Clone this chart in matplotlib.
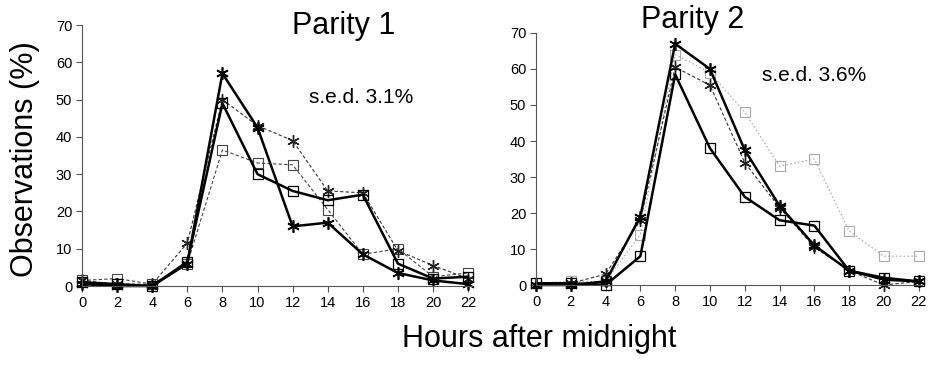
import matplotlib.pyplot as plt
import numpy as np

plt.rcParams['font.family'] = ['Liberation Sans', 'DejaVu Sans']

hours = [0, 2, 4, 6, 8, 10, 12, 14, 16, 18, 20, 22]

# Parity 1
p1_solid_star = [0.5, 0, 0, 6, 57, 42.5, 16, 17, 8.5, 3.5, 1.5, 0.5]
p1_solid_square = [1, 0.5, 0, 6.5, 49, 30, 25.5, 23, 24.5, 6, 2, 2.5]
p1_dash_star = [1.5, 0.5, 0.5, 11.5, 50, 43, 39, 25.5, 25, 9.5, 5.5, 2]
p1_dash_square = [1.5, 2, 0.5, 6, 36.5, 33, 32.5, 20.5, 8.5, 10, 2.5, 3.5]

# Parity 2
p2_solid_star = [0, 0, 1, 19, 67, 60, 37.5, 22, 11, 4, 1.5, 1]
p2_solid_square = [0.5, 0.5, 0, 8, 58.5, 38, 24.5, 18, 16.5, 4, 2, 1]
p2_dash_star = [0, 0.5, 3, 18, 60.5, 55.5, 34, 21.5, 10.5, 4, 0, 1]
p2_dash_square = [0.5, 1, 1, 14, 64, 59, 48, 33, 35, 15, 8, 8]

star = (6, 2, 0)

fig = plt.figure(figsize=(9.33, 3.69), dpi=100)
ax1 = fig.add_axes([0.0879, 0.2249, 0.4176, 0.7073])
ax2 = fig.add_axes([0.5745, 0.2276, 0.4139, 0.683])


def draw(ax, s_star, s_sq, d_star, d_sq, sq_color, sq_ls):
    ax.plot(hours, d_sq, color=sq_color, lw=0.8, ls=sq_ls, marker='s', ms=7.5,
            mfc='none', mec=sq_color, mew=0.8, clip_on=False)
    ax.plot(hours, d_star, color='#333333', lw=0.8, ls=(0, (3, 2)), marker=star,
            ms=9, mec='#222222', mew=1.0, clip_on=False)
    ax.plot(hours, s_sq, color='black', lw=1.8, marker='s', ms=7.5,
            mfc='none', mec='black', mew=0.9, clip_on=False)
    ax.plot(hours, s_star, color='black', lw=1.8, marker=star, ms=9,
            mec='black', mew=1.2, clip_on=False)
    ax.set_xlim(0, 22.2)
    ax.set_ylim(0, 70)
    ax.set_xticks(hours)
    ax.set_yticks(range(0, 71, 10))
    for s in ['top', 'right']:
        ax.spines[s].set_visible(False)
    ax.spines['left'].set_color('#555555')
    ax.spines['bottom'].set_color('#555555')
    ax.tick_params(labelsize=10.5, length=4, width=0.8, color='#555555', pad=3)


draw(ax1, p1_solid_star, p1_solid_square, p1_dash_star, p1_dash_square,
     '#444444', (0, (3, 2)))
draw(ax2, p2_solid_star, p2_solid_square, p2_dash_star, p2_dash_square,
     '#aaaaaa', (0, (1.5, 2)))

fig.text(0.368, 0.93, 'Parity 1', fontsize=22, ha='center', va='center')
fig.text(0.742, 0.945, 'Parity 2', fontsize=22, ha='center', va='center')
fig.text(0.387, 0.735, 's.e.d. 3.1%', fontsize=15, ha='center', va='center')
fig.text(0.873, 0.795, 's.e.d. 3.6%', fontsize=15, ha='center', va='center')
fig.text(0.027, 0.569, 'Observations (%)', fontsize=22, rotation=90,
         ha='center', va='center')
fig.text(0.578, 0.08, 'Hours after midnight', fontsize=22, ha='center', va='center')

fig.savefig('out.png', dpi=100)
